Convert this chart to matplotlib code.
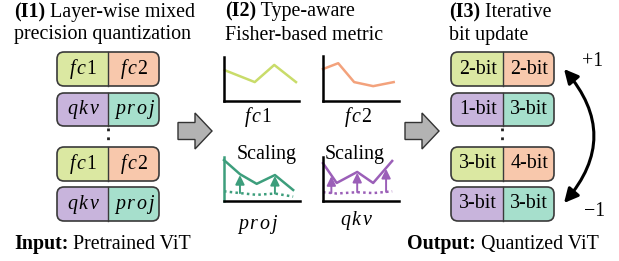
import numpy as np
import matplotlib
matplotlib.use('Agg')
import matplotlib.pyplot as plt
from matplotlib.patches import FancyBboxPatch, Rectangle, FancyArrowPatch

plt.rcParams['font.family'] = ['Liberation Serif', 'DejaVu Serif']
plt.rcParams['mathtext.fontset'] = 'custom'
plt.rcParams['mathtext.it'] = 'Liberation Serif:italic'
plt.rcParams['mathtext.rm'] = 'Liberation Serif'

# --- data ---
layer_names = [['fc1', 'fc2'], ['qkv', 'proj'], ['fc1', 'fc2'], ['qkv', 'proj']]
bit_widths = [[2, 2], [1, 3], [3, 4], [3, 3]]

fc1_x = [1, 41, 67, 96]
fc1_y = [70, 43, 82, 43]
fc2_x = [0, 20, 41, 66, 93]
fc2_y = [71, 84, 42, 33, 42]
proj_x = [0, 21, 43, 67, 91]
proj_y = [93, 61, 39, 59, 25]
proj_base = [22, 18, 14, 17, 10]
proj_arrows = [21, 67]
qkv_x = [0, 18, 45, 66, 91]
qkv_y = [86, 41, 66, 41, 91]
qkv_base = [20, 17, 20, 18, 22]
qkv_arrows = [11, 45, 83]

fill = {'fc1': '#dbe8a2', 'fc2': '#f8c8ac', 'qkv': '#c8b4dc', 'proj': '#a6dfcc'}
line_col = {'fc1': '#c9dc6a', 'fc2': '#f3a27c', 'qkv': '#9b5fb8', 'proj': '#3d9e7c'}

W, H = 619, 261
FS = 14.4
fig = plt.figure(figsize=(W / 100, H / 100), dpi=100)
ax = fig.add_axes([0, 0, 1, 1])
ax.set_xlim(0, W)
ax.set_ylim(H, 0)
ax.axis('off')

rows = [(52, 86), (93, 126), (147, 181), (187, 221)]


def it(s):
    # spaced math italic, like Cambria Math
    return '$' + r'\hspace{0.12}'.join(s) + '$'


def block(x0, x1, y0, y1, lc, rc, lt, rt):
    xm = (x0 + x1) / 2
    shape = FancyBboxPatch((x0, y0), x1 - x0, y1 - y0,
                           boxstyle='round,pad=0,rounding_size=7', fc=lc, ec='none')
    ax.add_patch(shape)
    r = Rectangle((xm, y0), x1 - xm, y1 - y0, fc=rc, ec='none')
    ax.add_patch(r)
    r.set_clip_path(shape)
    ax.add_patch(FancyBboxPatch((x0, y0), x1 - x0, y1 - y0,
                                boxstyle='round,pad=0,rounding_size=7', fc='none',
                                ec='#3a3a3a', lw=1.2))
    ax.plot([xm, xm], [y0, y1], color='#3a3a3a', lw=1.0)
    ax.text((x0 + xm) / 2 + 1, (y0 + y1) / 2, lt, ha='center', va='center', fontsize=FS)
    ax.text((xm + x1) / 2 + 1, (y0 + y1) / 2, rt, ha='center', va='center', fontsize=FS)


for (y0, y1), names, bits in zip(rows, layer_names, bit_widths):
    block(57, 159, y0, y1, fill[names[0]], fill[names[1]], it(names[0]), it(names[1]))
    block(451, 554, y0, y1, fill[names[0]], fill[names[1]],
          f'{bits[0]}-bit', f'{bits[1]}-bit')

for xd in (108, 502):
    ax.plot([xd, xd], [128, 145], color='#222222', lw=2, linestyle=(0, (1, 2.2)))


def mixed(x, y, bold, rest):
    t = ax.text(x, y, bold, fontsize=FS, fontweight='bold', ha='left', va='baseline')
    ax.annotate(rest, xy=(1, 0), xycoords=t, ha='left', va='bottom', fontsize=FS)


mixed(14, 17, '(I1)', ' Layer-wise mixed')
ax.text(14, 39, 'precision quantization', fontsize=FS, va='baseline')
mixed(225, 16, '(I2)', ' Type-aware')
ax.text(225, 40, 'Fisher-based metric', fontsize=FS, va='baseline')
mixed(449, 17, '(I3)', ' Iterative')
ax.text(449, 40, 'bit update', fontsize=FS, va='baseline')
mixed(14, 249, 'Input:', ' Pretrained ViT')
mixed(407, 249, 'Output:', ' Quantized ViT')

# block arrows
for xa in (178, 405):
    ax.arrow(xa, 131, 34, 0, width=17, head_width=36, head_length=17,
             length_includes_head=True, fc='#b3b3b3', ec='#333333', lw=1.0)

# curved update arrow
ax.add_patch(FancyArrowPatch((564, 203), (564, 69), connectionstyle='arc3,rad=0.43',
                             arrowstyle='<|-|>,head_length=0.6,head_width=0.3',
                             mutation_scale=14, lw=2.2, color='black',
                             shrinkA=0, shrinkB=0))
ax.text(593, 61, '+1', ha='center', va='center', fontsize=FS)
ax.text(595, 212, '\u22121', ha='center', va='center', fontsize=FS)


def mini(x0, x1, y0, y1, xs, ys, name, base=None, arrows=None, left_col='black'):
    m = fig.add_axes([x0 / W, 1 - y1 / H, (x1 - x0) / W, (y1 - y0) / H])
    m.set_xlim(0, 100)
    m.set_ylim(0, 100)
    m.patch.set_alpha(0)
    m.set_xticks([])
    m.set_yticks([])
    for s in ('top', 'right'):
        m.spines[s].set_visible(False)
    m.spines['left'].set_linewidth(1.8)
    m.spines['bottom'].set_linewidth(1.8)
    m.spines['left'].set_color(left_col)
    c = line_col[name]
    m.plot(xs, ys, color=c, lw=1.8, clip_on=False)
    if base is not None:
        m.plot(xs, base, color=c, lw=1.8, linestyle=(0, (1, 1.3)), clip_on=False)
        for xa in arrows:
            yb = np.interp(xa, xs, base)
            yt = np.interp(xa, xs, ys)
            m.annotate('', xy=(xa, yt - 2), xytext=(xa, yb),
                       arrowprops=dict(arrowstyle='-|>,head_length=0.45,head_width=0.22',
                                       mutation_scale=12, color=c, lw=1.4,
                                       shrinkA=0, shrinkB=0))
    return m


mini(224, 299, 57, 101, fc1_x, fc1_y, 'fc1')
mini(323, 399, 56, 101, fc2_x, fc2_y, 'fc2')
mini(224, 300, 157, 201, proj_x, proj_y, 'proj', proj_base, proj_arrows, left_col=line_col['proj'])
mini(323, 399, 157, 201, qkv_x, qkv_y, 'qkv', qkv_base, qkv_arrows)

ax.text(267, 155, 'Scaling', ha='center', va='center', fontsize=FS)
ax.text(355, 155, 'Scaling', ha='center', va='center', fontsize=FS)

ax.text(258, 122, it('fc1'), ha='center', va='baseline', fontsize=FS)
ax.text(358, 122, it('fc2'), ha='center', va='baseline', fontsize=FS)
ax.text(258, 229, it('proj'), ha='center', va='baseline', fontsize=FS)
ax.text(357, 225, it('qkv'), ha='center', va='baseline', fontsize=FS)

fig.savefig('out.png', dpi=100)
